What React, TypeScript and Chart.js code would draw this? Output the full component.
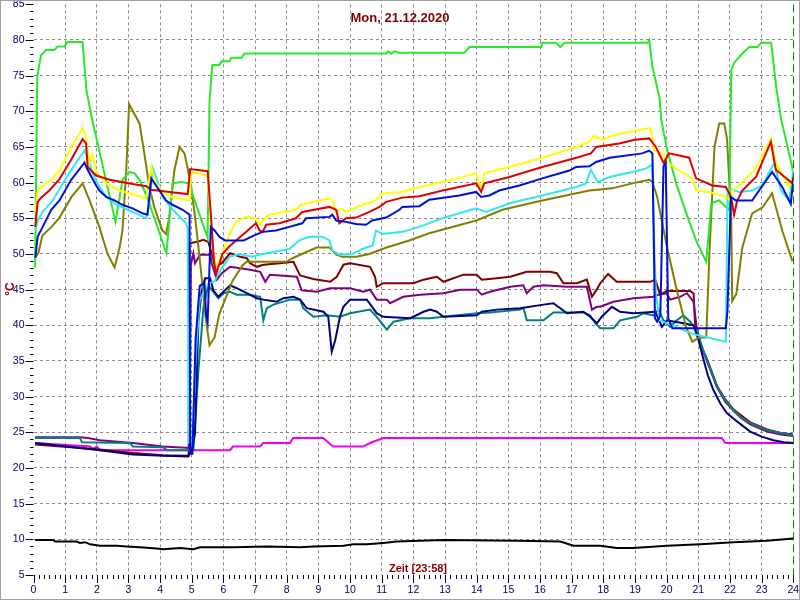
import React, { useEffect, useRef } from "react";
import { Chart, registerables } from "chart.js";

Chart.register(...registerables);

type P = [number, number];

const titleText = "Mon, 21.12.2020";
const xAxisText = "Zeit [23:58]";
const yAxisText = "°C";
const xTickValues = [0, 1, 2, 3, 4, 5, 6, 7, 8, 9, 10, 11, 12, 13, 14, 15, 16, 17, 18, 19, 20, 21, 22, 23, 24];
const yTickValues = [5, 10, 15, 20, 25, 30, 35, 40, 45, 50, 55, 60, 65, 70, 75, 80, 85];

const green: P[] = [[0.05,48.1],[0.12,74.9],[0.24,77.9],[0.4,78.6],[0.66,78.6],[0.76,79.1],[0.98,79.1],[1.07,79.7],[1.55,79.7],[1.67,73.0],[1.83,69.3],[2.59,54.5],[2.81,60.4],[3.03,61.5],[3.19,61.3],[3.35,60.4],[3.57,58.2],[4.2,50.1],[4.39,59.9],[4.67,60.1],[4.9,59.9],[5.5,52.3],[5.56,71.5],[5.65,76.5],[5.87,76.5],[5.94,77.0],[6.19,77.0],[6.25,77.5],[6.57,77.5],[6.66,78.1],[11.15,78.1],[11.2,78.4],[11.3,78.1],[11.4,78.4],[11.55,78.2],[13.61,78.2],[13.77,79.0],[16.04,79.0],[16.07,79.6],[16.51,79.6],[16.64,79.0],[16.77,79.6],[19.39,79.6],[19.45,80.0],[19.55,76.2],[19.77,72.0],[19.83,68.8],[20.02,64.5],[20.3,59.9],[20.62,55.7],[20.93,51.9],[21.25,48.9],[21.41,57.1],[21.66,57.5],[21.98,56.1],[22.04,75.8],[22.13,76.8],[22.39,78.1],[22.61,79.0],[22.86,79.0],[22.99,79.6],[23.3,79.6],[23.46,73.4],[23.62,68.8],[23.97,62.1],[24.0,61.0]];

const yellow: P[] = [[0.06,56.0],[0.13,58.9],[0.29,59.6],[0.56,60.4],[0.82,61.7],[1.19,65.0],[1.55,67.6],[1.64,66.9],[1.77,62.8],[1.86,63.9],[1.98,61.5],[2.3,59.9],[2.72,58.9],[3.13,58.4],[3.56,57.8],[3.72,62.2],[3.87,59.9],[4.19,58.2],[4.61,57.8],[4.93,57.5],[4.98,61.5],[5.5,61.0],[5.65,50.9],[5.77,48.1],[6.08,51.4],[6.19,52.8],[6.4,54.5],[6.72,55.2],[7.03,55.0],[7.14,54.1],[7.24,54.7],[7.45,55.5],[8.29,56.2],[8.45,56.9],[9.35,57.8],[9.44,57.5],[9.56,55.8],[9.71,56.4],[9.87,55.9],[10.39,56.9],[10.82,57.5],[11.02,58.5],[11.65,58.7],[12.19,59.4],[12.92,60.1],[13.98,61.3],[14.14,58.9],[14.24,61.3],[15.03,62.2],[16.07,63.5],[17.14,65.0],[17.56,65.7],[17.71,66.6],[17.97,66.0],[18.28,66.6],[18.82,67.1],[19.35,67.6],[19.5,67.6],[19.61,64.5],[19.85,64.2],[20.0,62.9],[20.4,61.7],[20.81,60.6],[20.93,58.9],[21.34,58.7],[21.87,58.0],[22.03,57.5],[22.07,58.9],[22.29,59.6],[22.82,62.0],[23.29,66.2],[23.45,62.8],[23.87,59.4],[24.0,60.6]];

const red: P[] = [[0.06,53.8],[0.13,57.3],[0.24,57.9],[0.5,58.9],[0.82,60.5],[1.19,63.2],[1.55,66.1],[1.66,65.5],[1.71,62.2],[1.98,61.0],[2.4,60.4],[3.13,59.8],[3.56,59.5],[3.72,59.0],[4.29,58.7],[4.87,58.4],[4.95,61.9],[5.5,61.6],[5.6,55.7],[5.7,49.0],[5.77,47.2],[5.97,50.0],[6.19,51.1],[6.4,51.9],[6.72,53.1],[6.97,54.1],[7.03,54.3],[7.14,53.3],[7.24,53.1],[7.35,54.1],[7.77,54.3],[8.29,55.0],[8.49,55.9],[9.35,56.6],[9.56,56.2],[9.66,54.3],[9.87,55.0],[10.19,55.1],[10.61,55.9],[10.93,56.6],[11.14,57.3],[11.65,57.9],[12.19,58.1],[12.92,58.9],[13.99,59.9],[14.14,58.7],[14.24,59.9],[15.03,60.8],[16.07,62.2],[17.15,63.5],[17.61,64.1],[17.77,65.0],[18.5,65.5],[19.0,66.0],[19.45,66.2],[19.66,65.0],[19.9,62.8],[20.08,64.1],[20.71,63.5],[20.93,60.6],[21.44,59.6],[21.87,59.4],[22.03,58.0],[22.13,55.5],[22.23,57.5],[22.39,58.9],[22.82,60.8],[23.29,65.7],[23.45,61.8],[23.97,59.9],[24.0,60.8]];

const blue: P[] = [[0.06,49.5],[0.13,52.4],[0.29,53.8],[0.56,56.2],[0.82,57.5],[1.19,60.4],[1.61,62.8],[1.71,61.8],[1.98,59.6],[2.08,58.9],[2.3,58.0],[2.56,57.5],[2.81,56.9],[3.13,56.4],[3.44,55.7],[3.6,55.5],[3.72,60.6],[3.87,59.6],[4.19,57.5],[4.39,56.9],[4.71,56.2],[4.93,55.5],[4.95,22.0],[5.02,22.0],[5.12,38.0],[5.25,45.5],[5.4,46.0],[5.45,41.5],[5.5,40.5],[5.55,47.0],[5.6,53.8],[5.72,53.3],[5.87,52.4],[6.05,51.9],[6.64,51.9],[6.97,52.6],[7.24,53.1],[7.66,53.3],[8.08,53.8],[8.49,54.3],[8.61,55.0],[9.35,55.2],[9.44,55.5],[9.56,54.7],[9.87,54.5],[10.19,54.2],[10.5,54.1],[10.7,54.7],[11.14,55.1],[11.56,56.2],[11.65,56.6],[12.19,56.7],[12.5,57.6],[13.45,58.2],[13.98,58.7],[14.14,58.0],[14.4,58.2],[14.71,58.9],[15.35,59.6],[16.07,60.6],[16.93,61.7],[17.14,62.2],[17.56,62.3],[17.77,62.9],[18.2,63.5],[19.23,64.1],[19.45,64.5],[19.55,64.1],[19.63,41.0],[19.7,40.5],[19.8,41.4],[19.9,62.3],[19.97,62.8],[20.05,41.0],[20.18,39.6],[21.87,39.6],[21.92,42.0],[22.03,58.0],[22.19,57.5],[22.7,57.5],[23.33,61.5],[23.65,59.4],[23.92,57.0],[24.0,60.4]];

const cyan: P[] = [[0.06,53.3],[0.13,54.7],[0.29,55.9],[0.61,57.5],[0.93,59.9],[1.24,62.1],[1.61,64.5],[1.71,63.5],[1.87,61.3],[2.08,59.4],[2.3,58.0],[2.61,56.9],[3.13,55.9],[3.56,55.0],[3.66,57.1],[3.77,62.0],[3.87,60.8],[4.08,58.0],[4.4,56.2],[4.82,54.3],[4.87,53.6],[4.9,23.5],[5.02,23.5],[5.12,35.5],[5.25,43.5],[5.45,45.3],[5.6,46.0],[5.72,46.2],[5.87,47.5],[6.19,49.6],[6.5,50.0],[6.9,49.6],[7.24,50.0],[8.08,50.7],[8.4,51.9],[8.72,52.4],[9.13,52.4],[9.35,51.9],[9.44,50.5],[9.66,49.9],[10.08,50.0],[10.39,50.7],[10.71,51.2],[10.82,53.3],[11.02,52.8],[11.65,53.1],[12.19,53.8],[12.92,55.0],[13.98,56.4],[14.3,55.9],[15.03,57.1],[16.07,58.2],[17.14,59.4],[17.45,59.9],[17.61,61.8],[17.82,60.1],[18.2,60.8],[18.4,61.0],[18.92,61.5],[19.35,62.0],[19.55,62.5],[19.61,51.0],[19.66,44.5],[19.77,40.7],[20.18,40.0],[20.81,38.8],[21.87,37.7],[21.92,58.5],[22.03,59.1],[22.29,58.7],[22.7,58.9],[23.02,59.6],[23.4,62.8],[23.61,58.9],[23.87,57.5],[24.0,61.7]];

const olive: P[] = [[0.06,49.5],[0.16,50.2],[0.28,52.6],[0.57,53.8],[0.82,55.1],[1.2,58.0],[1.55,59.9],[1.77,57.5],[2.08,53.8],[2.34,50.0],[2.56,48.1],[2.72,50.9],[2.81,53.3],[2.93,61.7],[3.02,71.0],[3.35,68.3],[3.5,64.1],[3.66,59.4],[3.82,56.5],[4.07,53.3],[4.19,52.8],[4.29,55.2],[4.45,61.7],[4.61,65.0],[4.77,64.1],[4.86,62.2],[4.98,59.4],[5.14,53.8],[5.3,47.2],[5.45,40.7],[5.56,37.2],[5.72,38.3],[5.87,41.6],[6.08,43.9],[6.28,46.2],[6.6,48.4],[6.73,48.9],[7.99,48.9],[8.18,49.4],[8.94,50.9],[9.35,50.9],[9.57,49.9],[9.76,49.6],[10.2,49.6],[10.61,50.0],[11.15,50.9],[11.87,51.9],[12.5,52.9],[13.99,54.7],[14.81,56.2],[16.07,57.5],[17.15,58.5],[17.56,58.9],[18.28,59.2],[18.91,59.9],[19.45,60.4],[19.55,60.1],[19.7,58.0],[19.99,51.4],[20.3,45.3],[20.62,39.7],[20.81,37.7],[21.03,38.3],[21.25,38.3],[21.35,50.0],[21.51,65.0],[21.66,68.3],[21.82,68.3],[21.91,66.0],[22.04,54.7],[22.07,43.4],[22.2,44.4],[22.39,50.9],[22.7,55.7],[23.02,56.5],[23.33,58.5],[23.65,53.3],[23.97,49.0]];

const maroon: P[] = [[0.05,23.3],[2.1,22.6],[3.14,22.1],[4.09,21.8],[4.9,21.7],[4.93,51.5],[5.16,51.7],[5.37,52.0],[5.52,51.7],[5.63,50.1],[5.74,48.2],[5.95,48.7],[6.21,50.1],[6.53,49.6],[6.74,49.4],[6.84,48.7],[7.05,48.2],[7.26,48.5],[7.79,48.7],[8.21,48.9],[8.42,47.0],[8.84,46.5],[9.37,46.1],[9.58,46.8],[9.79,48.5],[10.0,48.7],[10.63,48.2],[10.79,46.8],[10.84,45.4],[11.05,45.9],[12.0,45.9],[12.32,46.4],[12.74,46.8],[12.95,46.1],[13.58,47.1],[14.0,47.1],[14.16,46.4],[14.64,46.6],[15.06,46.8],[15.58,47.5],[16.32,47.5],[16.53,47.3],[16.74,45.9],[17.16,45.9],[17.48,46.4],[17.64,44.0],[17.79,45.0],[17.9,45.9],[18.0,46.4],[18.15,47.2],[18.42,46.1],[19.48,46.1],[19.64,46.4],[19.79,44.3],[20.0,44.8],[20.74,44.8],[20.85,44.5],[20.9,40.0],[21.05,37.5],[21.27,35.3],[21.59,31.5],[21.85,29.6],[22.11,28.2],[22.64,26.4],[23.17,25.4],[23.6,24.9],[24.0,24.7]];

const purple: P[] = [[0.05,24.3],[1.47,24.3],[1.72,24.2],[2.1,23.9],[3.14,23.5],[4.09,23.0],[4.93,22.8],[4.97,48.5],[5.05,50.1],[5.1,48.7],[5.26,49.9],[5.58,49.9],[5.63,48.7],[5.79,46.4],[5.95,47.3],[6.21,48.2],[6.53,48.0],[6.84,47.8],[7.16,47.5],[7.32,46.1],[7.47,47.1],[8.32,46.8],[8.47,44.9],[8.95,44.7],[9.37,45.2],[10.0,45.2],[10.42,44.7],[10.63,45.0],[10.84,43.6],[11.16,43.6],[11.26,43.1],[11.68,44.0],[12.21,44.3],[12.95,44.5],[13.48,45.0],[14.0,45.0],[14.16,44.3],[14.42,44.7],[15.06,45.4],[15.47,45.6],[15.58,44.5],[15.79,45.4],[16.11,45.6],[16.85,45.4],[17.48,45.4],[17.64,42.2],[17.79,42.6],[17.9,42.6],[18.32,43.3],[18.95,43.8],[19.58,44.0],[19.74,44.3],[20.0,44.5],[20.11,43.6],[20.42,44.0],[20.64,44.5],[20.85,43.3],[20.95,39.6],[21.1,37.0],[21.27,35.0],[21.59,31.3],[21.85,29.3],[22.11,28.0],[22.35,27.0],[22.64,26.1],[23.17,25.1],[23.6,24.7],[24.0,24.5]];

const navy: P[] = [[0.05,23.5],[1.06,23.0],[2.1,22.5],[3.14,21.9],[4.09,21.7],[4.88,21.6],[5.0,22.5],[5.1,24.8],[5.21,40.7],[5.31,44.7],[5.42,46.6],[5.58,46.6],[5.68,44.9],[5.84,44.0],[6.0,44.7],[6.21,45.6],[6.42,45.2],[6.74,44.5],[7.05,43.8],[7.26,43.6],[7.68,43.3],[7.89,43.8],[8.21,44.0],[8.42,43.6],[8.63,42.4],[9.16,41.9],[9.31,41.2],[9.42,36.3],[9.53,37.9],[9.68,41.2],[9.79,42.6],[10.0,43.6],[10.53,43.6],[10.84,41.7],[11.05,41.2],[11.9,41.0],[12.32,41.9],[12.53,42.2],[12.74,41.9],[12.95,41.2],[14.0,41.4],[14.16,41.9],[14.64,42.2],[15.37,42.4],[16.11,42.9],[16.42,43.1],[16.64,42.4],[16.85,41.7],[17.37,41.9],[17.58,41.2],[17.8,40.3],[17.95,41.2],[18.27,42.6],[18.53,41.9],[18.95,41.7],[19.64,41.9],[19.85,39.8],[20.01,40.7],[20.53,40.3],[20.85,40.0],[21.0,38.0],[21.17,35.1],[21.3,33.0],[21.48,30.9],[21.7,29.0],[21.9,27.7],[22.2,26.6],[22.64,25.1],[23.0,24.4],[23.37,23.9],[23.7,23.6],[24.0,23.5]];

const teal: P[] = [[0.05,24.2],[1.47,24.2],[1.53,23.6],[3.05,23.5],[3.14,23.0],[4.09,22.9],[4.22,22.5],[5.05,22.5],[5.21,33.7],[5.37,42.6],[5.52,45.6],[5.68,44.7],[5.84,43.8],[6.0,44.5],[6.21,44.7],[6.42,44.3],[6.84,44.3],[7.16,44.0],[7.26,40.7],[7.37,42.4],[7.58,42.9],[8.1,43.6],[8.42,43.6],[8.52,42.4],[8.84,41.2],[9.26,41.4],[9.68,41.2],[10.0,41.7],[10.63,42.2],[10.84,41.2],[11.16,39.4],[11.37,40.5],[11.9,41.0],[12.53,41.0],[12.95,41.2],[14.0,41.7],[14.42,41.8],[15.37,42.2],[15.48,42.4],[15.58,40.7],[16.11,40.7],[16.42,41.8],[17.37,41.8],[17.58,41.4],[17.74,40.3],[17.9,39.6],[18.32,39.6],[18.53,40.7],[19.06,41.2],[19.27,41.7],[19.58,41.4],[19.74,42.2],[19.9,40.7],[20.11,39.8],[20.32,40.7],[20.53,41.4],[20.74,40.5],[20.95,39.3],[21.1,37.2],[21.27,35.1],[21.59,31.4],[21.85,29.5],[22.11,28.1],[22.35,27.1],[22.64,26.3],[23.17,25.3],[23.6,24.9],[24.0,24.6]];

const magenta: P[] = [[0.05,23.5],[1.78,23.0],[1.89,22.7],[2.0,23.0],[2.1,22.5],[6.21,22.5],[6.3,23.0],[7.16,23.0],[7.25,23.5],[8.1,23.5],[8.2,24.2],[9.15,24.2],[9.46,23.0],[10.41,23.0],[10.63,23.5],[11.05,24.2],[19.32,24.2],[19.42,24.2],[21.74,24.2],[21.85,23.5],[24.0,23.5]];

const black: P[] = [[0.05,9.9],[0.63,9.9],[0.68,9.7],[1.36,9.7],[1.47,9.5],[1.63,9.6],[1.79,9.3],[2.1,9.1],[2.63,9.1],[2.94,9.0],[3.36,8.9],[3.89,8.7],[4.1,8.6],[4.63,8.8],[5.05,8.6],[5.26,8.9],[6.31,8.9],[7.37,9.0],[8.42,8.9],[8.84,9.0],[9.79,9.1],[10.1,9.3],[10.53,9.3],[11.05,9.5],[11.48,9.7],[12.95,9.9],[15.27,9.8],[16.64,9.7],[17.06,9.1],[17.9,9.1],[18.43,8.8],[18.95,8.8],[20.01,9.1],[21.06,9.3],[22.11,9.6],[23.17,9.8],[24.0,10.1]];

const seriesList: { data: P[]; color: string }[] = [
  { data: black, color: "#000000" },
  { data: blue, color: "#0010d0" },
  { data: red, color: "#e00000" },
  { data: yellow, color: "#ffff00" },
  { data: cyan, color: "#30e8f0" },
  { data: green, color: "#28e828" },
  { data: olive, color: "#808000" },
  { data: navy, color: "#000080" },
  { data: teal, color: "#008080" },
  { data: purple, color: "#800080" },
  { data: maroon, color: "#800000" },
  { data: magenta, color: "#ee00ee" },
];

const decorPlugin = {
  id: "decor",
  afterDraw(chart: any) {
    const { ctx, chartArea, scales } = chart;
    const xs = scales.x;
    const ys = scales.y;
    ctx.save();
    // tick marks
    ctx.strokeStyle = "#000030";
    ctx.lineWidth = 1;
    ctx.setLineDash([]);
    ctx.beginPath();
    for (let v = 5; v <= 85; v++) {
      const y = Math.round(ys.getPixelForValue(v)) + 0.5;
      const len = v % 5 === 0 ? 8 : 3.5;
      ctx.moveTo(chartArea.left - len, y);
      ctx.lineTo(chartArea.left, y);
    }
    for (let m = 0; m <= 144; m++) {
      const x = Math.round(xs.getPixelForValue(m / 6)) + 0.5;
      const len = m % 6 === 0 ? 8 : 4;
      ctx.moveTo(x, chartArea.bottom);
      ctx.lineTo(x, chartArea.bottom + len);
    }
    ctx.stroke();
    // current-time marker
    const xe = Math.round(xs.getPixelForValue(24)) + 0.5;
    ctx.strokeStyle = "#008000";
    ctx.setLineDash([8, 4]);
    ctx.beginPath();
    ctx.moveTo(xe, chartArea.top);
    ctx.lineTo(xe, chartArea.bottom);
    ctx.stroke();
    ctx.setLineDash([]);
    // texts
    ctx.fillStyle = "#800000";
    ctx.textAlign = "center";
    ctx.textBaseline = "middle";
    ctx.font = "bold 13px 'Liberation Sans', Arial, sans-serif";
    ctx.fillText(titleText, 400, 18);
    ctx.font = "bold 11px 'Liberation Sans', Arial, sans-serif";
    ctx.fillText(xAxisText, 418, 569);
    ctx.save();
    ctx.translate(11, 289);
    ctx.rotate(-Math.PI / 2);
    ctx.font = "bold 12px 'Liberation Sans', Arial, sans-serif";
    ctx.fillText(yAxisText, 0, 0);
    ctx.restore();
    // frame
    ctx.strokeStyle = "#a0a0a0";
    ctx.lineWidth = 1;
    ctx.strokeRect(0.5, 0.5, 799, 599);
    ctx.restore();
  },
};

export default function App() {
  const ref = useRef<HTMLCanvasElement>(null);
  useEffect(() => {
    if (!ref.current) return;
    const chart = new Chart(ref.current, {
      type: "line",
      data: {
        datasets: seriesList.map((s) => ({
          data: s.data.map(([x, y]) => ({ x, y })),
          borderColor: s.color,
          backgroundColor: s.color,
          borderWidth: 2,
          pointRadius: 0,
          tension: 0,
          fill: false,
        })),
      },
      options: {
        animation: false,
        responsive: false,
        events: [],
        layout: { padding: { left: 0, right: 6.7, top: 4.3, bottom: 0 } },
        plugins: { legend: { display: false }, tooltip: { enabled: false }, title: { display: false } },
        scales: {
          x: {
            type: "linear",
            min: 0,
            max: 24,
            afterBuildTicks: (scale: any) => {
              scale.ticks = xTickValues.map((v) => ({ value: v }));
            },
            afterFit: (scale: any) => {
              scale.height = 25;
              scale.paddingLeft = 0;
              scale.paddingRight = 0;
            },
            ticks: {
              autoSkip: false,
              maxRotation: 0,
              color: "#000070",
              padding: 9,
              font: { family: "'Liberation Sans', Arial, sans-serif", size: 10.5 },
            },
            grid: {
              drawTicks: false,
              color: (c: any) => (c.tick && (c.tick.value === 0 || c.tick.value === 24) ? "rgba(0,0,0,0)" : "#8a8a8a"),
            },
            border: { display: false, dash: [3, 3] },
          },
          y: {
            type: "linear",
            min: 5,
            max: 85,
            afterBuildTicks: (scale: any) => {
              scale.ticks = yTickValues.map((v) => ({ value: v }));
            },
            afterFit: (scale: any) => {
              scale.width = 33.5;
              scale.paddingTop = 0;
              scale.paddingBottom = 0;
            },
            ticks: {
              color: "#000070",
              padding: 9,
              font: { family: "'Liberation Sans', Arial, sans-serif", size: 10.5 },
            },
            grid: {
              drawTicks: false,
              color: (c: any) => (c.tick && (c.tick.value === 5 || c.tick.value === 85) ? "rgba(0,0,0,0)" : "#8a8a8a"),
            },
            border: { display: false, dash: [3, 3] },
          },
        },
      },
      plugins: [decorPlugin],
    } as any);
    return () => chart.destroy();
  }, []);
  return (
    <div style={{ position: "fixed", left: 0, top: 0, width: 800, height: 600, background: "#ffffff" }}>
      <canvas ref={ref} width={800} height={600} />
    </div>
  );
}
